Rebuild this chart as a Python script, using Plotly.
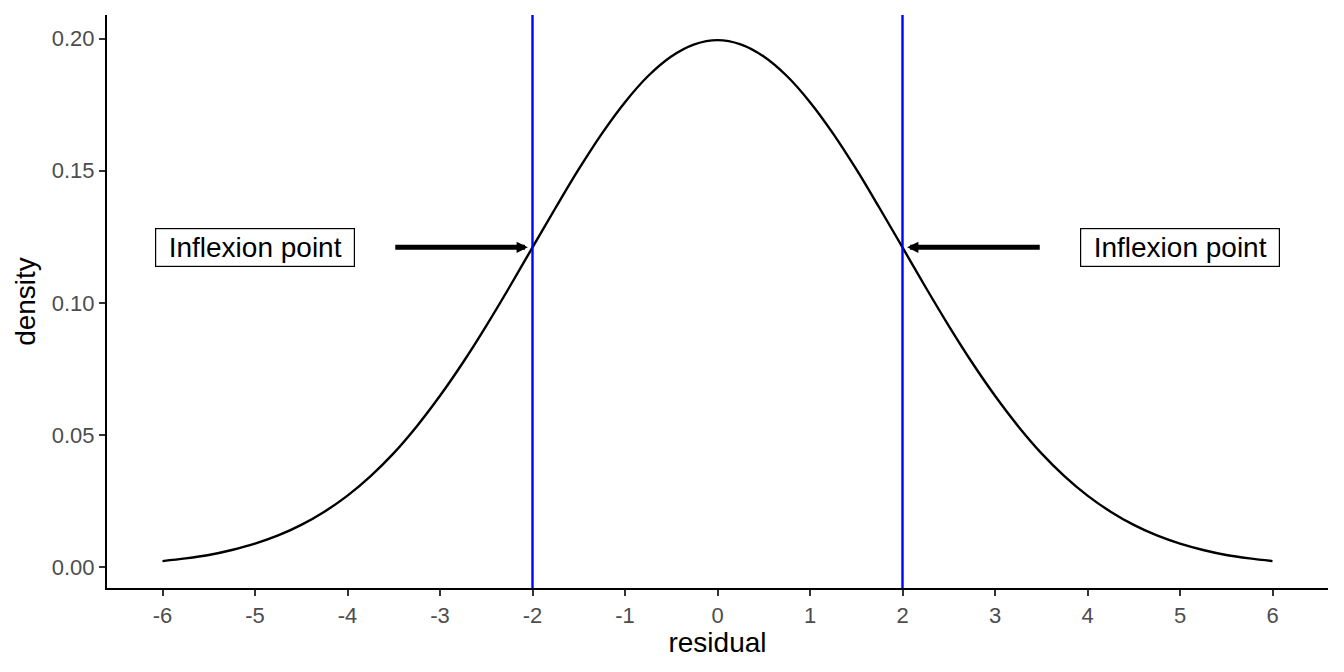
import plotly.graph_objects as go

# Density curve values
residual = [-6, -5.75, -5.5, -5.25, -5, -4.75, -4.5, -4.25, -4, -3.75, -3.5, -3.25,
            -3, -2.75, -2.5, -2.25, -2, -1.75, -1.5, -1.25, -1, -0.75, -0.5, -0.25,
            0, 0.25, 0.5, 0.75, 1, 1.25, 1.5, 1.75, 2, 2.25, 2.5, 2.75, 3, 3.25,
            3.5, 3.75, 4, 4.25, 4.5, 4.75, 5, 5.25, 5.5, 5.75, 6]
density = [0.0022, 0.0032, 0.0045, 0.0064, 0.0088, 0.0119, 0.0159, 0.0209, 0.0270,
           0.0344, 0.0431, 0.0533, 0.0648, 0.0775, 0.0913, 0.1059, 0.1210, 0.1360,
           0.1506, 0.1641, 0.1760, 0.1859, 0.1933, 0.1979, 0.1995, 0.1979, 0.1933,
           0.1859, 0.1760, 0.1641, 0.1506, 0.1360, 0.1210, 0.1059, 0.0913, 0.0775,
           0.0648, 0.0533, 0.0431, 0.0344, 0.0270, 0.0209, 0.0159, 0.0119, 0.0088,
           0.0064, 0.0045, 0.0032, 0.0022]

inflexion_x = [-2, 2]
inflexion_y = 0.121
label_x = [-5, 5]
arrow_tail_x = [-3.5, 3.5]
arrow_head_x = [-2.05, 2.05]
label_text = "Inflexion point"
x_ticks = list(range(-6, 7))
y_ticks = [0.00, 0.05, 0.10, 0.15, 0.20]

FONT = "Liberation Sans, Arial, sans-serif"

fig = go.Figure()
fig.add_trace(go.Scatter(x=residual, y=density, mode="lines", line_shape="spline",
                         line=dict(color="black", width=2.4), hoverinfo="skip",
                         showlegend=False))

for vx in inflexion_x:
    fig.add_shape(type="line", x0=vx, x1=vx, y0=0, y1=1, xref="x", yref="paper",
                  line=dict(color="blue", width=2.4))

for lx in label_x:
    fig.add_annotation(x=lx, y=inflexion_y, text=label_text, showarrow=False,
                       font=dict(size=28, color="black", family=FONT),
                       width=192, bordercolor="black", borderwidth=1.2, borderpad=3,
                       bgcolor="white")

for tx, hx in zip(arrow_tail_x, arrow_head_x):
    fig.add_annotation(x=hx, y=inflexion_y, ax=tx, ay=inflexion_y, xref="x", yref="y",
                       axref="x", ayref="y", text="", showarrow=True, arrowhead=2,
                       arrowsize=0.45, arrowwidth=5, arrowcolor="black", standoff=0)

axis_common = dict(showgrid=False, zeroline=False, showline=True, linecolor="black",
                   linewidth=2.2, ticks="outside", ticklen=6, tickwidth=2.2,
                   tickcolor="#333333",
                   tickfont=dict(size=22, color="#4d4d4d", family=FONT),
                   title_font=dict(size=28, color="black", family=FONT))

fig.update_xaxes(range=[-6.6, 6.6], tickvals=x_ticks, ticktext=[str(t) for t in x_ticks],
                 title_text="residual", title_standoff=4, **axis_common)
fig.update_yaxes(range=[-0.008, 0.209], tickvals=y_ticks,
                 ticktext=[f"{t:.2f}" for t in y_ticks],
                 title_text="density", title_standoff=8, **axis_common)

# page body has an 8px margin, so the figure is sized to fit the 1344x672 window
fig.update_layout(width=1328, height=656, plot_bgcolor="white", paper_bgcolor="white",
                  margin=dict(l=99, r=8, t=7, b=76))

fig.write_html("out.html")
